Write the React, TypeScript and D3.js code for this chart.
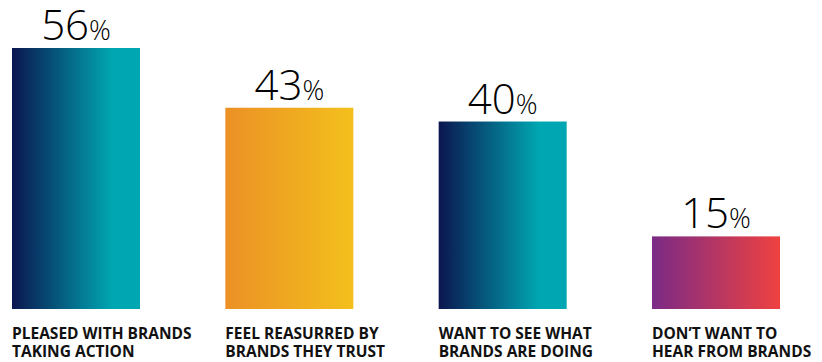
import React from "react";
import * as d3 from "d3";

const categories = ["c1", "c2", "c3", "c4"];
const values = [56, 43, 40, 15];
const labelLine1 = ["PLEASED WITH BRANDS", "FEEL REASURRED BY", "WANT TO SEE WHAT", "DON\u2019T WANT TO"];
const labelLine2 = ["TAKING ACTION", "BRANDS THEY TRUST", "BRANDS ARE DOING", "HEAR FROM BRANDS"];
const gradients = [
  ["#0b1650", "#00a6b1"],
  ["#ec9026", "#f3c01c"],
  ["#0b1650", "#00a6b1"],
  ["#7b2a86", "#ef4240"],
];

const W = 822;
const H = 362;
const baseline = 309;

export default function App() {
  const x = d3.scaleBand<string>().domain(categories).range([12, 780]).paddingInner(0.4).paddingOuter(0);
  const y = d3.scaleLinear().domain([-0.8, 56]).range([baseline, 48]);
  const bw = x.bandwidth();
  return (
    <svg width={W} height={H} style={{ position: "absolute", left: 0, top: 0 }}>
      <defs>
        {gradients.map((g, i) => (
          <linearGradient id={`g${i}`} key={i} x1="0" x2="1" y1="0" y2="0">
            <stop offset="0%" stopColor={g[0]} />
            <stop offset={i === 0 || i === 2 ? "78%" : "100%"} stopColor={g[1]} />
            <stop offset="100%" stopColor={g[1]} />
          </linearGradient>
        ))}
      </defs>
      {values.map((v, i) => {
        const x0 = x(categories[i]) as number;
        const top = y(v);
        return (
          <g key={i}>
            <rect x={x0} y={top} width={bw} height={baseline - top} fill={`url(#g${i})`} />
            <text
              x={x0 + bw / 2}
              y={top - 8}
              textAnchor="middle"
              fontFamily="'Open Sans', sans-serif"
              fontWeight={300}
              fill="#000"
            >
              <tspan fontSize={42}>{v}</tspan>
              <tspan fontSize={27}>%</tspan>
            </text>
            <text x={x0} y={338.5} fontFamily="'Open Sans', sans-serif" fontWeight={700} fontSize={15.5} fill="#111">
              <tspan x={x0}>{labelLine1[i]}</tspan>
              <tspan x={x0} dy={18.5}>{labelLine2[i]}</tspan>
            </text>
          </g>
        );
      })}
    </svg>
  );
}
